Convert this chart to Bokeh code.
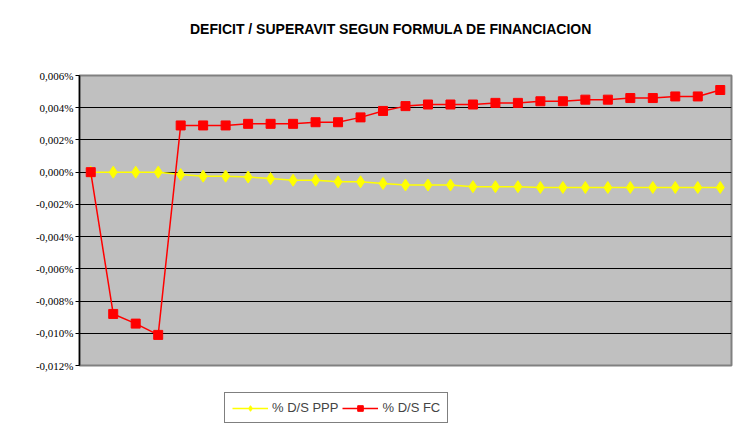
from bokeh.plotting import figure
from bokeh.layouts import column
from bokeh.models import (Range1d, FixedTicker, CustomJSTickFormatter, Legend, LegendItem, Div)
from bokeh.embed import file_html
from bokeh.resources import INLINE

# ---- data (values in %) ----
periods = list(range(1, 30))
ds_ppp = [0.0, 0.0, 0.0, 0.0, -0.00015, -0.00025, -0.00025, -0.0003, -0.0004, -0.0005,
          -0.0005, -0.0006, -0.0006, -0.0007, -0.0008, -0.0008, -0.0008, -0.0009, -0.0009,
          -0.0009, -0.00095, -0.00095, -0.00095, -0.00095, -0.00095, -0.00095, -0.00095,
          -0.00095, -0.00095]
ds_fc = [0.0, -0.0088, -0.0094, -0.0101, 0.0029, 0.0029, 0.0029, 0.0030, 0.0030, 0.0030,
         0.0031, 0.0031, 0.0034, 0.0038, 0.0041, 0.0042, 0.0042, 0.0042, 0.0043, 0.0043,
         0.0044, 0.0044, 0.0045, 0.0045, 0.0046, 0.0046, 0.0047, 0.0047, 0.0051]
y_ticks = [-0.012, -0.010, -0.008, -0.006, -0.004, -0.002, 0.0, 0.002, 0.004, 0.006]
series_labels = ["% D/S PPP", "% D/S FC"]
title_text = "DEFICIT / SUPERAVIT SEGUN FORMULA DE FINANCIACION"

W = 742
H_TITLE, H_MAIN, H_LEG = 50, 335, 40

title_div = Div(text=('<div style="margin-left:190px; margin-top:19px; white-space:nowrap; '
                      'font-family:\'Liberation Sans\'; font-weight:bold; font-size:14px; '
                      'color:#000;">' + title_text + '</div>'),
                width=W, height=H_TITLE, margin=(0, 0, 0, 0))

p = figure(width=W, height=H_MAIN, output_backend="svg", toolbar_location=None,
           x_range=Range1d(0.5, len(periods) + 0.5), y_range=Range1d(y_ticks[0], y_ticks[-1]),
           min_border_left=79, min_border_right=11, min_border_top=25, min_border_bottom=20)
p.title = None

p.background_fill_color = "#C0C0C0"
p.border_fill_color = "white"
p.outline_line_color = "#808080"
p.outline_line_width = 2

p.xaxis.visible = False
p.xgrid.visible = False
p.ygrid.grid_line_color = "#000000"
p.ygrid.grid_line_width = 1
p.yaxis.ticker = FixedTicker(ticks=y_ticks)
p.yaxis.formatter = CustomJSTickFormatter(code="""
    let s = tick.toFixed(3).replace('.', ',');
    if (s === '-0,000') s = '0,000';
    return s + '%';
""")
p.yaxis.major_label_text_font = "Liberation Serif"
p.yaxis.major_label_text_font_size = "11px"
p.yaxis.major_label_text_color = "#000000"
p.yaxis.axis_line_color = "#000000"
p.yaxis.axis_line_width = 1.5
p.yaxis.major_tick_line_color = "#000000"
p.yaxis.major_tick_out = 4
p.yaxis.major_tick_in = 0
p.yaxis.minor_tick_line_color = None
p.yaxis.major_label_standoff = 2

p.line(periods, ds_ppp, line_color="#FFFF00", line_width=1.5)
p.scatter(periods, ds_ppp, marker="diamond", size=12, fill_color="#FFFF00", line_color="#FFFF00")
p.line(periods, ds_fc, line_color="#FF0000", line_width=1.5)
p.scatter(periods, ds_fc, marker="square", size=9, fill_color="#FF0000", line_color="#FF0000")

# legend strip below the chart (same series and styles, drawn outside its visible range)
q = figure(width=W, height=H_LEG, output_backend="svg", toolbar_location=None,
           x_range=Range1d(0.5, len(periods) + 0.5), y_range=Range1d(1, 2),
           min_border_left=79, min_border_right=11, min_border_top=0, min_border_bottom=0)
q.axis.visible = False
q.grid.visible = False
q.outline_line_color = None
q.background_fill_color = "white"
q.border_fill_color = "white"
ql1 = q.line(periods, ds_ppp, line_color="#FFFF00", line_width=1.5)
qs1 = q.scatter(periods, ds_ppp, marker="diamond", size=11, fill_color="#FFFF00", line_color="#FFFF00")
ql2 = q.line(periods, ds_fc, line_color="#FF0000", line_width=1.5)
qs2 = q.scatter(periods, ds_fc, marker="square", size=9, fill_color="#FF0000", line_color="#FF0000")

legend = Legend(items=[LegendItem(label=series_labels[0], renderers=[ql1, qs1]),
                       LegendItem(label=series_labels[1], renderers=[ql2, qs2])],
                orientation="horizontal", location=(145, 2),
                label_text_font="Liberation Sans", label_text_font_size="13px",
                glyph_width=36, glyph_height=14, spacing=4, padding=7, margin=0,
                label_standoff=4, border_line_color="#000000", border_line_width=1,
                background_fill_color="white", background_fill_alpha=1)
q.add_layout(legend, "center")

layout = column(title_div, p, q, spacing=0)
open("out.html", "w").write(file_html(layout, INLINE))
